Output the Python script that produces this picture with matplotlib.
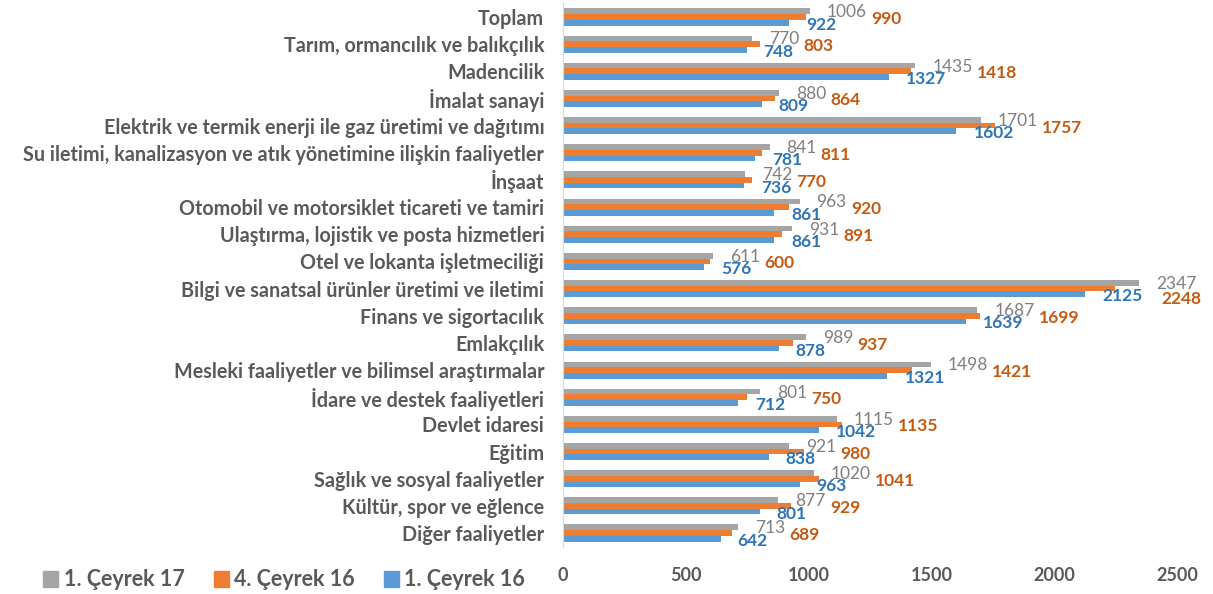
import numpy as np
import matplotlib
matplotlib.use("Agg")
import matplotlib.pyplot as plt
from matplotlib.patches import Patch

plt.rcParams['font.family'] = ['Lato', 'DejaVu Sans']

# sectors (top to bottom)
categories = [
    'Toplam', 'Tarım, ormancılık ve balıkçılık', 'Madencilik', 'İmalat sanayi',
    'Elektrik ve termik enerji ile gaz üretimi ve dağıtımı',
    'Su iletimi, kanalizasyon ve atık yönetimine ilişkin faaliyetler',
    'İnşaat', 'Otomobil ve motorsiklet ticareti ve tamiri',
    'Ulaştırma, lojistik ve posta hizmetleri', 'Otel ve lokanta işletmeciliği',
    'Bilgi ve sanatsal ürünler üretimi ve iletimi', 'Finans ve sigortacılık',
    'Emlakçılık', 'Mesleki faaliyetler ve bilimsel araştırmalar',
    'İdare ve destek faaliyetleri', 'Devlet idaresi', 'Eğitim',
    'Sağlık ve sosyal faaliyetler', 'Kültür, spor ve eğlence', 'Diğer faaliyetler'
]
q1_17 = [1006, 770, 1435, 880, 1701, 841, 742, 963, 931, 611,
         2347, 1687, 989, 1498, 801, 1115, 921, 1020, 877, 713]
q4_16 = [990, 803, 1418, 864, 1757, 811, 770, 920, 891, 600,
         2248, 1699, 937, 1421, 750, 1135, 980, 1041, 929, 689]
q1_16 = [922, 748, 1327, 809, 1602, 781, 736, 861, 861, 576,
         2125, 1639, 878, 1321, 712, 1042, 838, 963, 801, 642]
series_names = ['1. Çeyrek 17', '4. Çeyrek 16', '1. Çeyrek 16']
x_ticks = [0, 500, 1000, 1500, 2000, 2500]

c_gray, c_orange, c_blue = '#A5A5A5', '#ED7D31', '#5B9BD5'
t_gray, t_orange, t_blue = '#7F7F7F', '#C55A11', '#2E75B6'
txt = '#595959'

W, H = 1213, 594
fig = plt.figure(figsize=(W / 100, H / 100), dpi=100)
ax = fig.add_axes([563 / W, 1 - 546.6 / H, (1177 - 563) / W, (546.6 - 3.4) / H])

y = np.arange(len(categories))
h = 0.21
ax.barh(y - h, q1_17, height=h, color=c_gray)
ax.barh(y, q4_16, height=h, color=c_orange)
ax.barh(y + h, q1_16, height=h, color=c_blue)

orange_labels = []
for i in range(len(categories)):
    g = ax.annotate(str(q1_17[i]), xy=(q1_17[i], y[i] - h), xytext=(17, -1),
                    textcoords='offset pixels', va='center', ha='left',
                    fontsize=12.5, color=t_gray)
    o = ax.annotate(str(q4_16[i]), xy=(1, y[i]), xycoords=(g, 'data'), xytext=(4, -2),
                    textcoords='offset pixels', va='center', ha='left',
                    fontsize=12.5, color=t_orange, fontweight='bold')
    orange_labels.append(o)
    ax.annotate(str(q1_16[i]), xy=(q1_16[i], y[i] + h), xytext=(17, -2),
                textcoords='offset pixels', va='center', ha='left',
                fontsize=12.5, color=t_blue, fontweight='bold')

ax.set_xlim(0, 2500)
ax.set_ylim(len(categories) - 0.5, -0.5)
ax.set_yticks(y)
ax.set_yticklabels(categories, fontsize=14.2, fontweight='bold', color=txt)
ax.set_xticks(x_ticks)
ax.set_xticklabels([str(v) for v in x_ticks], fontsize=13, fontweight='bold', color=txt)
ax.tick_params(axis='y', length=0, pad=13.5)
ax.tick_params(axis='x', length=0, pad=15)
for s in ['top', 'right', 'bottom']:
    ax.spines[s].set_visible(False)
ax.spines['left'].set_color('#D9D9D9')

handles = [Patch(color=c) for c in (c_gray, c_orange, c_blue)]
fig.legend(handles, series_names, loc='center left',
           bbox_to_anchor=(24 / W, 1 - 580 / H), ncol=3, frameon=False,
           handlelength=0.7, handleheight=0.7, handletextpad=0.25, columnspacing=1.35,
           prop={'size': 15.5, 'weight': 'bold'}, labelcolor=txt)

# keep labels that run past the right edge inside the figure (pushed left and down)
fig.canvas.draw()
for o in orange_labels:
    bb = o.get_window_extent()
    if bb.x1 > W - 8:
        dx, dy = o.xyann
        o.xyann = (dx - (bb.x1 - (W - 8)) - 4, dy - 8)

fig.savefig('out.png', dpi=100)
